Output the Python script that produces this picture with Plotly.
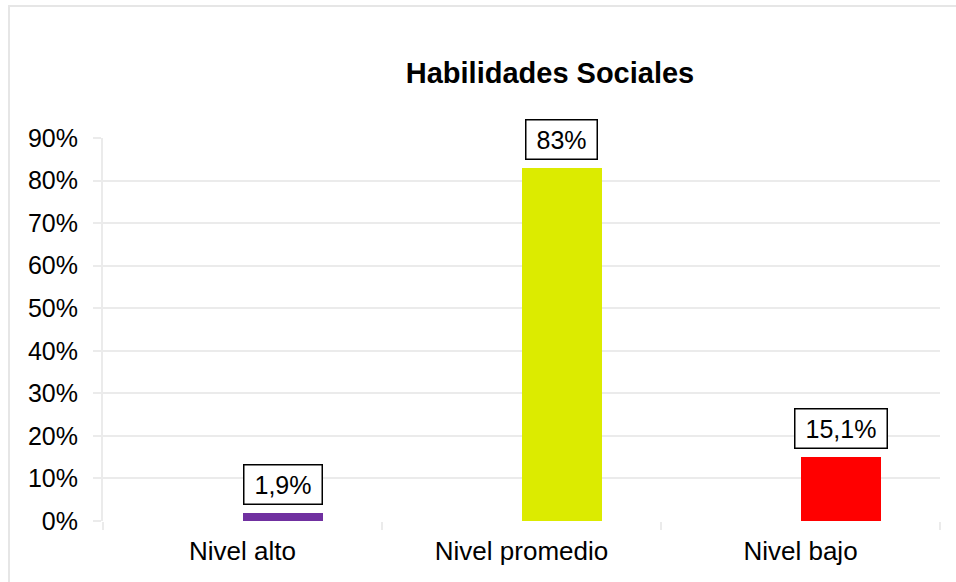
import plotly.graph_objects as go

categories = ["Nivel alto", "Nivel promedio", "Nivel bajo"]
values = [0.019, 0.83, 0.151]
value_labels = ["1,9%", "83%", "15,1%"]
bar_colors = ["#7030A0", "#DCEB00", "#FF0000"]
y_ticks = [0, 0.1, 0.2, 0.3, 0.4, 0.5, 0.6, 0.7, 0.8, 0.9]
y_tick_labels = ["0%", "10%", "20%", "30%", "40%", "50%", "60%", "70%", "80%", "90%"]

W, H = 956, 582
L, T = 103, 138
R = W - 940
B = H - 521
plot_w = W - L - R
plot_h = H - T - B
cat_w = plot_w / len(categories)
bar_px = 80
FONT = "Arial, Liberation Sans, sans-serif"
GRID = "#EBEBEB"

fig = go.Figure()
fig.add_trace(go.Bar(
    x=categories, y=values,
    marker=dict(color=bar_colors, line=dict(width=0)),
    width=bar_px / cat_w, offset=0,
    hoverinfo="skip",
))

# Arial widths for label box sizing
aw = {c: 0.556 for c in "0123456789"}
aw.update({",": 0.278, "%": 0.889})
fs = 25
for cat, v, lab in zip(categories, values, value_labels):
    tw = sum(aw.get(c, 0.556) for c in lab) * fs
    fig.add_annotation(
        x=cat, y=v, xref="x", yref="y",
        text=lab, showarrow=False,
        xanchor="center", yanchor="bottom",
        xshift=bar_px / 2, yshift=8,
        font=dict(family=FONT, size=fs, color="#000000"),
        bordercolor="#000000", borderwidth=1.5, borderpad=3,
        bgcolor="#FFFFFF", width=tw + 14, height=32,
    )

# outer chart border
fig.add_shape(
    type="rect", xref="paper", yref="paper",
    x0=(9 - L) / plot_w, x1=(W + 10 - L) / plot_w,
    y0=(521 - 592) / plot_h, y1=(521 - 6) / plot_h,
    line=dict(color="#E6E6E6", width=2), fillcolor="rgba(0,0,0,0)", layer="below",
)

fig.update_layout(
    width=W, height=H,
    margin=dict(l=L, r=R, t=T, b=B, pad=0),
    paper_bgcolor="#FFFFFF", plot_bgcolor="#FFFFFF",
    showlegend=False,
    title=dict(
        text="<b>Habilidades Sociales</b>",
        font=dict(family=FONT, size=29, color="#000000"),
        xref="container", yref="container",
        x=550 / W, xanchor="center", y=1 - 73 / H, yanchor="middle",
    ),
    bargap=0,
    xaxis=dict(
        type="category",
        showgrid=False, showline=False, zeroline=False,
        ticks="outside", tickson="boundaries", ticklen=8, tickcolor=GRID, tickwidth=2,
        ticklabelstandoff=12,
        tickfont=dict(family=FONT, size=26, color="#000000"),
        range=[-0.5, 2.5],
    ),
    yaxis=dict(
        range=[0, 0.9],
        tickvals=y_ticks, ticktext=y_tick_labels,
        showgrid=True, gridcolor=GRID, gridwidth=2,
        zeroline=False,
        showline=True, linecolor=GRID, linewidth=2,
        ticks="outside", ticklen=8, tickcolor=GRID, tickwidth=2,
        ticklabelstandoff=10,
        tickfont=dict(family=FONT, size=25, color="#000000"),
    ),
)

fig.write_html(
    "out.html",
    config={"displayModeBar": False, "staticPlot": True},
    post_script="document.body.style.margin='0';",
)
